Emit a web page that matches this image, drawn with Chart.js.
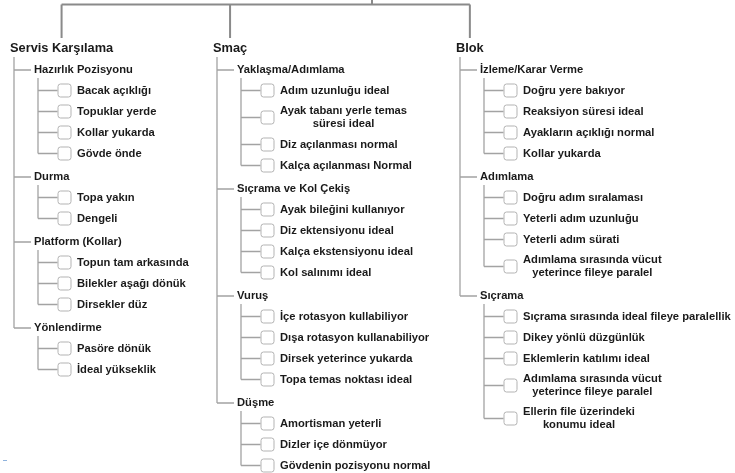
<!DOCTYPE html>
<html><head><meta charset="utf-8">
<script src="https://cdn.jsdelivr.net/npm/chart.js@4"></script>
<style>html,body{margin:0;padding:0;background:#fff}#wrap{width:735px;height:473px;position:relative}</style>
</head><body><div id="wrap"><canvas id="c"></canvas></div>
<script>
// ---- DATA ----
const categories = ['Servis Karşılama', 'Smaç', 'Blok'];

const servisGroups = ['Hazırlık Pozisyonu', 'Durma', 'Platform (Kollar)', 'Yönlendirme'];
const servisItems = [
  ['Bacak açıklığı', 'Topuklar yerde', 'Kollar yukarda', 'Gövde önde'],
  ['Topa yakın', 'Dengeli'],
  ['Topun tam arkasında', 'Bilekler aşağı dönük', 'Dirsekler düz'],
  ['Pasöre dönük', 'İdeal yükseklik']
];

const smacGroups = ['Yaklaşma/Adımlama', 'Sıçrama ve Kol Çekiş', 'Vuruş', 'Düşme'];
const smacItems = [
  ['Adım uzunluğu ideal', 'Ayak tabanı yerle temas\nsüresi ideal', 'Diz açılanması normal', 'Kalça açılanması Normal'],
  ['Ayak bileğini kullanıyor', 'Diz ektensiyonu ideal', 'Kalça ekstensiyonu ideal', 'Kol salınımı ideal'],
  ['İçe rotasyon kullabiliyor', 'Dışa rotasyon kullanabiliyor', 'Dirsek yeterince yukarda', 'Topa temas noktası ideal'],
  ['Amortisman yeterli', 'Dizler içe dönmüyor', 'Gövdenin pozisyonu normal']
];

const blokGroups = ['İzleme/Karar Verme', 'Adımlama', 'Sıçrama'];
const blokItems = [
  ['Doğru yere bakıyor', 'Reaksiyon süresi ideal', 'Ayakların açıklığı normal', 'Kollar yukarda'],
  ['Doğru adım sıralaması', 'Yeterli adım uzunluğu', 'Yeterli adım sürati', 'Adımlama sırasında vücut\nyeterince fileye paralel'],
  ['Sıçrama sırasında ideal fileye paralellik', 'Dikey yönlü düzgünlük', 'Eklemlerin katılımı ideal', 'Adımlama sırasında vücut\nyeterince fileye paralel', 'Ellerin file üzerindeki\nkonumu ideal']
];

// ---- LAYOUT / STYLE ----
const W = 735, H = 473;
const FONT_FAMILY = '"Liberation Sans", Arial, Helvetica, sans-serif';
const F1 = 'bold 12.8px ' + FONT_FAMILY;
const F2 = 'bold 11.2px ' + FONT_FAMILY;
const F3 = 'bold 11.2px ' + FONT_FAMILY;
const TEXT_COLOR = '#1a1a1a';
const LINE_COLOR = '#a3a3a3';
const TOP_COLOR = '#8a8a8a';
const layout = {
  colX: [10, 213, 456],
  rootX: 372, topY: 4.5, dropEnd: 38,
  titleY: 48, titleBottom: 57,
  headerGap: 13, headerHalf: 10,
  rowSingle: 21, rowDouble: 33, lineGap: 13,
  l1dx: 4, l2textDx: 24, l2lineEnd: 21,
  l3dx: 28, l3lineEnd: 47.5, boxDx: 54.5, textDx: 67, l3start: 8
};

const columns = [
  {title: categories[0], groups: servisGroups, items: servisItems},
  {title: categories[1], groups: smacGroups, items: smacItems},
  {title: categories[2], groups: blokGroups, items: blokItems}
];

const mctx = document.createElement('canvas').getContext('2d');
function measure(font, t) { mctx.font = font; return mctx.measureText(t).width; }

const texts = [];   // {x,y,font,lines}
const boxes = [];   // {x,y}
const lines = [];   // connectors
const topLine = [];
const brk = (arr, x) => arr.push({x: x, y: null});

const titleCenters = [];
columns.forEach((col, c) => {
  const base = layout.colX[c];
  const tc = base + measure(F1, col.title) / 2;
  titleCenters.push(tc);
  texts.push({x: base, y: layout.titleY, font: F1, lines: [col.title]});
  let bottom = layout.titleBottom;
  let lastHeaderY = 0;
  col.groups.forEach((g, gi) => {
    const hy = bottom + layout.headerGap;
    lastHeaderY = hy;
    bottom = hy + layout.headerHalf;
    texts.push({x: base + layout.l2textDx, y: hy, font: F2, lines: [g]});
    lines.push({x: base + layout.l1dx, y: hy}, {x: base + layout.l2lineEnd, y: hy}); brk(lines, base);
    let lastItemY = hy;
    col.items[gi].forEach(it => {
      const ls = it.split('\n');
      const h = ls.length > 1 ? layout.rowDouble : layout.rowSingle;
      const cy = bottom + h / 2;
      bottom += h;
      lastItemY = cy;
      boxes.push({x: base + layout.boxDx, y: cy});
      texts.push({x: base + layout.textDx, y: cy, font: F3, lines: ls});
      lines.push({x: base + layout.l3dx, y: cy}, {x: base + layout.l3lineEnd, y: cy}); brk(lines, base);
    });
    lines.push({x: base + layout.l3dx, y: hy + layout.l3start}, {x: base + layout.l3dx, y: lastItemY}); brk(lines, base);
  });
  lines.push({x: base + layout.l1dx, y: layout.titleBottom}, {x: base + layout.l1dx, y: lastHeaderY}); brk(lines, base);
  topLine.push({x: tc, y: layout.topY}, {x: tc, y: layout.dropEnd}); brk(topLine, tc);
});
topLine.push({x: titleCenters[0], y: layout.topY}, {x: titleCenters[2], y: layout.topY}); brk(topLine, 0);
topLine.push({x: layout.rootX, y: 0}, {x: layout.rootX, y: layout.topY});

// checkbox image used as point style
const boxImg = document.createElement('canvas');
boxImg.width = 15; boxImg.height = 15;
(function(){
  const g = boxImg.getContext('2d');
  g.fillStyle = '#fff'; g.strokeStyle = '#b3b3b3'; g.lineWidth = 1;
  g.beginPath(); g.roundRect(1, 1, 13, 13, 2.5); g.fill(); g.stroke();
})();

const labelPlugin = {
  id: 'treeLabels',
  afterDatasetsDraw(chart) {
    const ctx = chart.ctx, xs = chart.scales.x, ys = chart.scales.y;
    ctx.save();
    ctx.fillStyle = TEXT_COLOR;
    ctx.textBaseline = 'middle';
    texts.forEach(t => {
      ctx.font = t.font;
      const px = xs.getPixelForValue(t.x), py = ys.getPixelForValue(t.y);
      if (t.lines.length === 1) {
        ctx.textAlign = 'left';
        ctx.fillText(t.lines[0], px, py);
      } else {
        const wmax = Math.max(...t.lines.map(l => ctx.measureText(l).width));
        ctx.textAlign = 'center';
        const n = t.lines.length;
        t.lines.forEach((l, i) => {
          ctx.fillText(l, px + wmax / 2, py + (i - (n - 1) / 2) * layout.lineGap);
        });
      }
    });
    ctx.restore();
  }
};

new Chart(document.getElementById('c'), {
  type: 'scatter',
  data: {
    datasets: [
      {data: topLine, showLine: true, borderColor: TOP_COLOR, borderWidth: 2, pointRadius: 0, spanGaps: false},
      {data: lines, showLine: true, borderColor: LINE_COLOR, borderWidth: 1.3, pointRadius: 0, spanGaps: false},
      {data: [{x: 3, y: 460.5}, {x: 7, y: 460.5}], showLine: true, borderColor: '#8fb3dd', borderWidth: 1, pointRadius: 0},
      {data: boxes, pointStyle: boxImg, pointRadius: 7, pointHoverRadius: 7}
    ]
  },
  options: {
    responsive: true, maintainAspectRatio: false, animation: false,
    layout: {padding: 0, autoPadding: false},
    events: [],
    plugins: {legend: {display: false}, tooltip: {enabled: false}},
    scales: {
      x: {type: 'linear', min: 0, max: W, display: false},
      y: {type: 'linear', min: 0, max: H, reverse: true, display: false}
    }
  },
  plugins: [labelPlugin]
});
</script></body></html>
